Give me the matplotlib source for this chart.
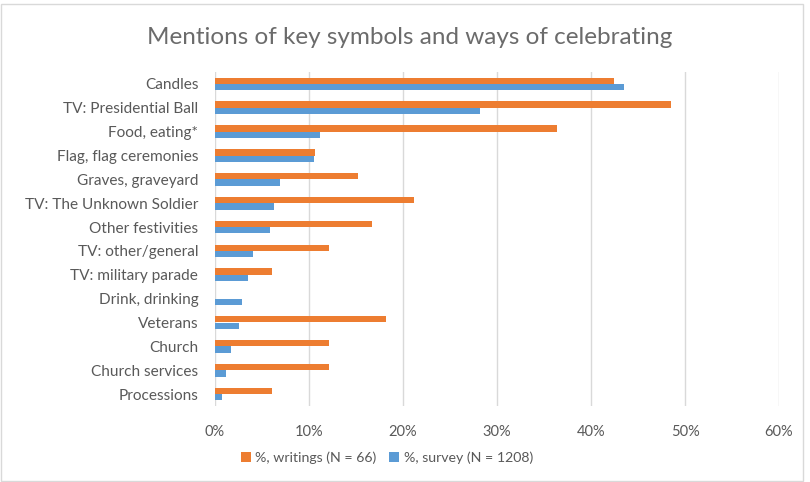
import matplotlib
matplotlib.use("Agg")
import matplotlib.pyplot as plt
from matplotlib.patches import Rectangle
import numpy as np

categories = ["Candles", "TV: Presidential Ball", "Food, eating*", "Flag, flag ceremonies",
              "Graves, graveyard", "TV: The Unknown Soldier", "Other festivities",
              "TV: other/general", "TV: military parade", "Drink, drinking", "Veterans",
              "Church", "Church services", "Processions"]
writings = [42.4, 48.5, 36.4, 10.6, 15.2, 21.2, 16.7, 12.1, 6.1, 0.0, 18.2, 12.1, 12.1, 6.1]
survey = [43.5, 28.2, 11.2, 10.5, 6.9, 6.3, 5.9, 4.0, 3.5, 2.9, 2.5, 1.7, 1.2, 0.7]
xticks = [0, 10, 20, 30, 40, 50, 60]
xtick_labels = ["0%", "10%", "20%", "30%", "40%", "50%", "60%"]

plt.rcParams['font.family'] = ['Lato', 'DejaVu Sans']
txt = "#595959"
orange = "#ED7D31"
blue = "#5B9BD5"

fig = plt.figure(figsize=(8.1, 4.82), dpi=100)
W, H = 810, 482
ax = fig.add_axes([215 / W, 1 - 406 / H, (779 - 215) / W, (406 - 72) / H])

y = np.arange(len(categories))
h = 0.265
ax.barh(y - h / 2, writings, height=h, color=orange, label="%, writings (N = 66)", zorder=3)
ax.barh(y + h / 2, survey, height=h, color=blue, label="%, survey (N = 1208)", zorder=3)

ax.set_ylim(len(categories) - 0.5, -0.5)
ax.set_xlim(0, 60)
ax.set_xticks(xticks)
ax.set_xticklabels(xtick_labels)
ax.set_yticks(y)
ax.set_yticklabels(categories)
ax.tick_params(axis='both', length=0, colors=txt, labelsize=10.5)
ax.tick_params(axis='y', labelsize=11.1)
ax.tick_params(axis='x', pad=14)
ax.tick_params(axis='y', pad=12)
ax.grid(axis='x', color="#d9d9d9", linewidth=1, zorder=0)
for s in ax.spines.values():
    s.set_visible(False)

fig.text(410 / W, 1 - 38 / H, "Mentions of key symbols and ways of celebrating",
         ha='center', va='center', fontsize=17.5, color="#6b6b6b")

leg = fig.legend(loc='center', bbox_to_anchor=(387 / W, 1 - 458 / H), ncol=2, frameon=False,
                 fontsize=10.2, handlelength=0.7, handleheight=0.7, columnspacing=0.9,
                 handletextpad=0.3)
for t in leg.get_texts():
    t.set_color(txt)

fig.patches.append(Rectangle((1 / W, 1 / H), (W - 8) / W, (H - 5) / H, transform=fig.transFigure,
                             fill=False, edgecolor="#d9d9d9", linewidth=1))

fig.savefig("out.png", dpi=100)
